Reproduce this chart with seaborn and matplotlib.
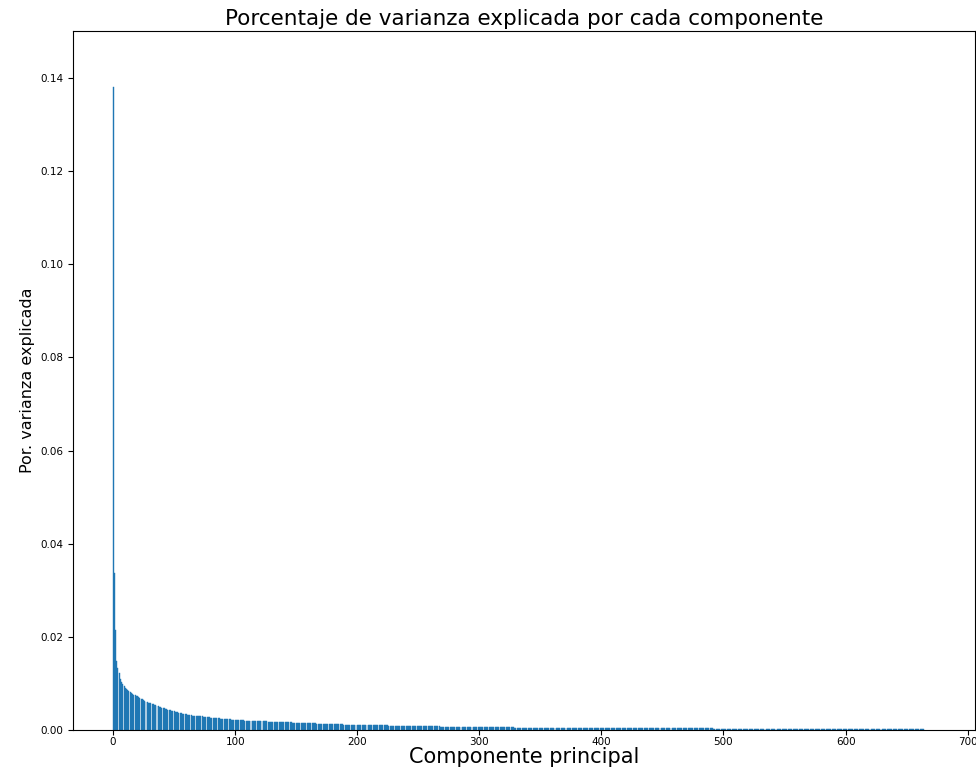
import pandas as pd
import matplotlib
matplotlib.use("Agg")
import matplotlib.pyplot as plt
import seaborn as sns

# ============================================================================
# Data (explained variance ratio per principal component, units of 1e-4)
# ============================================================================
varianza_1e4 = [
    1380, 338, 215, 148, 133, 122, 110, 103, 98, 94,
    91, 88, 86, 83, 81, 80, 78, 76, 75, 73,
    72, 70, 69, 67, 66, 65, 63, 61, 60, 59,
    58, 57, 56, 55, 54, 53, 52, 51, 50, 49,
    48, 47, 47, 46, 45, 44, 43, 42, 41, 41,
    40, 39, 38, 38, 37, 36, 36, 35, 35, 34,
    34, 33, 33, 32, 32, 31, 31, 31, 30, 30,
    30, 29, 29, 29, 28, 28, 28, 27, 27, 27,
    26.5, 26.2, 26.0, 25.7, 25.5, 25.2, 25.0, 24.8, 24.5, 24.2,
    24.0, 23.8, 23.5, 23.3, 23.0, 22.8, 22.6, 22.4, 22.2, 22.0,
    21.8, 21.6, 21.4, 21.2, 21.0, 20.8, 20.6, 20.5, 20.3, 20.1,
    20.0, 19.9, 19.8, 19.6, 19.5, 19.4, 19.3, 19.2, 19.1, 19.0,
    18.9, 18.8, 18.7, 18.6, 18.5, 18.4, 18.3, 18.2, 18.1, 18.0,
    17.9, 17.8, 17.7, 17.6, 17.5, 17.4, 17.2, 17.1, 17.0, 16.9,
    16.8, 16.7, 16.6, 16.5, 16.4, 16.3, 16.2, 16.1, 16.0, 15.9,
    15.6, 15.5, 15.4, 15.3, 15.2, 15.1, 15.0, 14.9, 14.8, 14.7,
    14.6, 14.5, 14.4, 14.3, 14.2, 14.1, 14.0, 13.9, 13.8, 13.7,
    13.6, 13.5, 13.4, 13.3, 13.2, 13.1, 13.0, 12.9, 12.8, 12.7,
    12.6, 12.5, 12.4, 12.3, 12.2, 12.1, 12.0, 11.9, 11.9, 11.8,
    11.7, 11.6, 11.5, 11.5, 11.4, 11.3, 11.2, 11.2, 11.1, 11.0,
    10.9, 10.9, 10.8, 10.8, 10.7, 10.7, 10.6, 10.6, 10.5, 10.5,
    10.4, 10.4, 10.3, 10.3, 10.2, 10.2, 10.1, 10.1, 10.0, 10.0,
    9.9, 9.9, 9.8, 9.8, 9.7, 9.7, 9.6, 9.6, 9.5, 9.5,
    9.4, 9.4, 9.3, 9.3, 9.2, 9.2, 9.1, 9.1, 9.0, 9.0,
    8.9, 8.9, 8.8, 8.8, 8.7, 8.7, 8.6, 8.6, 8.5, 8.5,
    8.4, 8.4, 8.3, 8.3, 8.2, 8.2, 8.1, 8.1, 8.0, 8.0,
    7.9, 7.9, 7.8, 7.8, 7.7, 7.7, 7.6, 7.6, 7.5, 7.5,
    7.4, 7.4, 7.3, 7.3, 7.2, 7.2, 7.1, 7.1, 7.0, 7.0,
    6.9, 6.9, 6.8, 6.8, 6.7, 6.7, 6.6, 6.6, 6.5, 6.5,
    6.4, 6.4, 6.3, 6.3, 6.2, 6.2, 6.1, 6.1, 6.1, 6.0,
    6.0, 6.0, 6.0, 5.9, 5.9, 5.9, 5.9, 5.8, 5.8, 5.8,
    5.8, 5.7, 5.7, 5.7, 5.7, 5.6, 5.6, 5.6, 5.6, 5.5,
    5.5, 5.5, 5.5, 5.5, 5.4, 5.4, 5.4, 5.4, 5.4, 5.3,
    5.3, 5.3, 5.3, 5.3, 5.3, 5.2, 5.2, 5.2, 5.2, 5.2,
    5.2, 5.1, 5.1, 5.1, 5.1, 5.1, 5.1, 5.0, 5.0, 5.0,
    5.0, 5.0, 5.0, 4.9, 4.9, 4.9, 4.9, 4.9, 4.9, 4.8,
    4.8, 4.8, 4.8, 4.8, 4.8, 4.8, 4.7, 4.7, 4.7, 4.7,
    4.7, 4.7, 4.7, 4.6, 4.6, 4.6, 4.6, 4.6, 4.6, 4.6,
    4.5, 4.5, 4.5, 4.5, 4.5, 4.5, 4.5, 4.4, 4.4, 4.4,
    4.4, 4.4, 4.4, 4.4, 4.4, 4.3, 4.3, 4.3, 4.3, 4.3,
    4.2, 4.2, 4.2, 4.2, 4.2, 4.1, 4.1, 4.1, 4.1, 4.1,
    4.1, 4.1, 4.1, 4.0, 4.0, 4.0, 4.0, 4.0, 4.0, 4.0,
    4.0, 4.0, 3.9, 3.9, 3.9, 3.9, 3.9, 3.9, 3.9, 3.9,
    3.9, 3.9, 3.8, 3.8, 3.8, 3.8, 3.8, 3.8, 3.8, 3.8,
    3.8, 3.8, 3.7, 3.7, 3.7, 3.7, 3.7, 3.7, 3.7, 3.7,
    3.7, 3.7, 3.6, 3.6, 3.6, 3.6, 3.6, 3.6, 3.6, 3.6,
    3.6, 3.6, 3.5, 3.5, 3.5, 3.5, 3.5, 3.5, 3.5, 3.5,
    3.5, 3.5, 3.4, 3.4, 3.4, 3.4, 3.4, 3.4, 3.4, 3.4,
    3.4, 3.4, 3.3, 3.3, 3.3, 3.3, 3.3, 3.3, 3.3, 3.3,
    3.3, 3.3, 3.2, 3.2, 3.2, 3.2, 3.2, 3.2, 3.2, 3.2,
    3.2, 3.2, 3.1, 3.1, 3.1, 3.1, 3.1, 3.1, 3.1, 3.1,
    3.1, 3.1, 3.0, 3.0, 3.0, 3.0, 3.0, 3.0, 3.0, 3.0,
    3.0, 3.0, 2.9, 2.9, 2.9, 2.9, 2.9, 2.9, 2.9, 2.9,
    2.9, 2.9, 2.8, 2.8, 2.8, 2.8, 2.8, 2.8, 2.8, 2.8,
    2.8, 2.8, 2.8, 2.8, 2.8, 2.8, 2.8, 2.8, 2.8, 2.8,
    2.7, 2.7, 2.7, 2.7, 2.7, 2.7, 2.7, 2.7, 2.7, 2.7,
    2.6, 2.6, 2.6, 2.6, 2.6, 2.6, 2.6, 2.6, 2.6, 2.6,
    2.5, 2.5, 2.5, 2.5, 2.5, 2.5, 2.1, 2.0, 2.0, 2.0,
    2.0, 2.0, 2.0, 2.0, 2.0, 2.0, 2.0, 2.0, 2.0, 2.0,
    1.9, 1.9, 1.9, 1.9, 1.9, 1.9, 1.9, 1.9, 1.9, 1.9,
    1.9, 1.9, 1.9, 1.9, 1.9, 1.8, 1.8, 1.8, 1.8, 1.8,
    1.8, 1.8, 1.8, 1.8, 1.8, 1.8, 1.8, 1.8, 1.8, 1.8,
    1.7, 1.7, 1.7, 1.7, 1.7, 1.7, 1.7, 1.7, 1.7, 1.7,
    1.7, 1.7, 1.7, 1.7, 1.7, 1.6, 1.6, 1.6, 1.6, 1.6,
    1.6, 1.6, 1.6, 1.6, 1.6, 1.6, 1.6, 1.6, 1.6, 1.6,
    1.5, 1.5, 1.5, 1.5, 1.5, 1.5, 1.5, 1.5, 1.5, 1.5,
    1.5, 1.5, 1.4, 1.4, 1.4,
]
componentes = list(range(len(varianza_1e4)))
x_ticks = [0, 100, 200, 300, 400, 500, 600, 700]
y_ticks = [0.00, 0.02, 0.04, 0.06, 0.08, 0.10, 0.12, 0.14]

df = pd.DataFrame({
    'componente': componentes,
    'varianza': [v / 10000 for v in varianza_1e4],
})

# ============================================================================
# Plot
# ============================================================================
fig = plt.figure(figsize=(9.76, 7.70), dpi=100)
ax = fig.add_axes([73 / 976, 40 / 770, 902 / 976, 699 / 770])

sns.barplot(data=df, x='componente', y='varianza', native_scale=True,
            color='#1f77b4', saturation=1, errorbar=None,
            edgecolor='#1f77b4', linewidth=0.3, ax=ax)

ax.set_xlim(-32.8, 706)
ax.set_ylim(0, 0.1501)
ax.set_xticks(x_ticks)
ax.set_xticklabels([str(t) for t in x_ticks], fontsize=7.5)
ax.set_yticks(y_ticks)
ax.set_yticklabels([f'{t:.2f}' for t in y_ticks], fontsize=7.5)
ax.tick_params(axis='x', pad=1.5)

ax.set_title('Porcentaje de varianza explicada por cada componente', fontsize=15.5, pad=4)
ax.set_xlabel('Componente principal', fontsize=15, labelpad=0)
ax.set_ylabel('Por. varianza explicada', fontsize=11.5)

fig.savefig('out.png', dpi=100)
plt.close(fig)
